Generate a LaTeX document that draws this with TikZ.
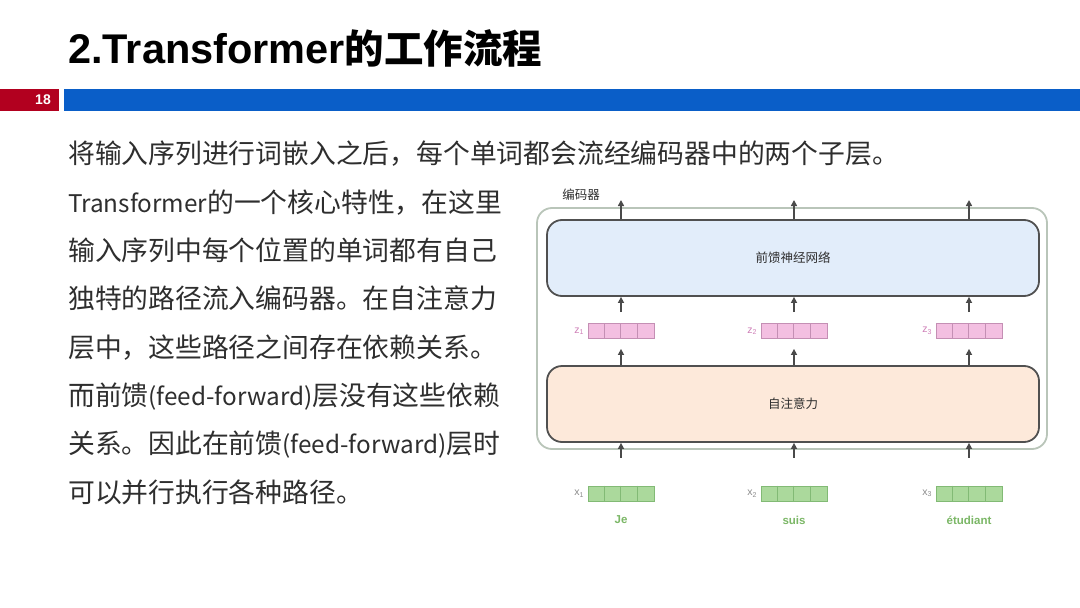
\documentclass[tikz,border=0pt]{standalone}
\usepackage{fontspec}
\setmainfont{Liberation Sans}
\newfontfamily\cjk{Noto Sans CJK SC}
\usetikzlibrary{arrows.meta}

\definecolor{barred}{HTML}{B2001F}
\definecolor{barblue}{HTML}{0A5EC8}
\definecolor{bodytext}{HTML}{2E2E2E}
\definecolor{encframe}{HTML}{B9C5B9}
\definecolor{boxline}{HTML}{505050}
\definecolor{ffnfill}{HTML}{E2EDFA}
\definecolor{attnfill}{HTML}{FDE9DA}
\definecolor{pinkfill}{HTML}{F3BFE1}
\definecolor{pinkline}{HTML}{C48FB4}
\definecolor{greenfill}{HTML}{ABD99C}
\definecolor{greenline}{HTML}{82BA75}
\definecolor{wordgreen}{HTML}{7BB766}
\definecolor{zlabel}{HTML}{CF80B8}
\definecolor{xlabel}{HTML}{8C8C8C}
\definecolor{arrowgray}{HTML}{4A4A4A}

\newcommand{\subidx}[1]{\raisebox{-1.5pt}{\fontsize{7}{7}\selectfont #1}}
% Latin runs inside the Chinese body text are set a little smaller
\newcommand{\lat}[1]{{\fontsize{24.3}{30}\selectfont #1}}

\begin{document}
\begin{tikzpicture}[x=1pt,y=-1pt,
  bodyline/.style={anchor=base west,inner sep=0pt,text=bodytext,
    font=\cjk\fontsize{26.8}{30}\selectfont},
  layerbox/.style={draw=boxline,line width=1.8pt,rounded corners=15pt,
    minimum width=492pt,minimum height=76pt,inner sep=0pt,
    text=bodytext,font=\cjk\fontsize{12.5}{14}\selectfont},
  encbox/.style={draw=encframe,line width=1.8pt,rounded corners=15pt,
    minimum width=510pt,minimum height=241pt,inner sep=0pt},
  vecbox/.style={minimum width=66pt,minimum height=15pt,inner sep=0pt,line width=0.8pt},
  zvec/.style={vecbox,draw=pinkline,fill=pinkfill},
  xvec/.style={vecbox,draw=greenline,fill=greenfill},
  zlab/.style={anchor=east,inner sep=0pt,text=zlabel,font=\fontsize{10.5}{12}\selectfont},
  xlab/.style={anchor=east,inner sep=0pt,text=xlabel,font=\fontsize{10.5}{12}\selectfont},
  word/.style={inner sep=0pt,text=wordgreen,font=\bfseries\fontsize{11.5}{13}\selectfont},
  arr/.style={draw=arrowgray,line width=1.5pt,-{Triangle[length=6pt,width=6pt]}}
]
\useasboundingbox (0,0) rectangle (1080,608);
\fill[white] (0,0) rectangle (1080,608);

% heading
\node[anchor=base west,inner sep=0pt,text=black,font=\bfseries\fontsize{41.5}{46}\selectfont]
  (title) at (68,63) {2.Transformer{\cjk\bfseries\fontsize{39.5}{46}\selectfont 的工作流程}};

% page bar
\fill[barred] (0,89) rectangle (59,111);
\fill[barblue] (64,89) rectangle (1080,111);
\node[anchor=east,inner sep=0pt,text=white,font=\bfseries\fontsize{14}{14}\selectfont]
  (pagenum) at (51,100) {18};

% lead sentence
\node[bodyline] (lead) at (68,163) {将输入序列进行词嵌入之后，每个单词都会流经编码器中的两个子层。};

% left column text
\node[bodyline] (p1) at (68,212) {\lat{Transformer}的一个核心特性，在这里};
\node[bodyline] (p2) at (68,260.3) {输入序列中每个位置的单词都有自己};
\node[bodyline] (p3) at (68,308.6) {独特的路径流入编码器。在自注意力};
\node[bodyline] (p4) at (68,357) {层中，这些路径之间存在依赖关系。};
\node[bodyline] (p5) at (68,405.2) {而前馈\lat{(feed-forward)}层没有这些依赖};
\node[bodyline] (p6) at (68,453.5) {关系。因此在前馈\lat{(feed-forward)}层时};
\node[bodyline] (p7) at (68,502) {可以并行执行各种路径。};

% encoder block
\node[encbox] (enc) at (792,328.5) {};
\node[inner sep=0pt,text=bodytext,font=\cjk\fontsize{12.5}{14}\selectfont]
  (enclabel) at (581,195) {编码器};
\node[layerbox,fill=ffnfill] (ffn) at (793,258) {前馈神经网络};
\node[layerbox,fill=attnfill] (attn) at (793,404) {自注意力};

% vectors z (between layers) and x (inputs)
\node[zvec] (z1) at (621,331) {};
\node[zvec] (z2) at (794,331) {};
\node[zvec] (z3) at (969,331) {};
\node[xvec] (x1) at (621,493.5) {};
\node[xvec] (x2) at (794,493.5) {};
\node[xvec] (x3) at (969,493.5) {};
\foreach \v in {z1,z2,z3}
  \foreach \k in {1,2,3}
    \draw[pinkline,line width=0.8pt] ([xshift=\k*16.5pt]\v.north west) -- ([xshift=\k*16.5pt]\v.south west);
\foreach \v in {x1,x2,x3}
  \foreach \k in {1,2,3}
    \draw[greenline,line width=0.8pt] ([xshift=\k*16.5pt]\v.north west) -- ([xshift=\k*16.5pt]\v.south west);

\node[zlab] (z1l) at ([xshift=-4pt]z1.west) {z\subidx{1}};
\node[zlab] (z2l) at ([xshift=-4pt]z2.west) {z\subidx{2}};
\node[zlab] (z3l) at ([xshift=-4pt]z3.west) {z\subidx{3}};
\node[xlab] (x1l) at ([xshift=-4pt]x1.west) {x\subidx{1}};
\node[xlab] (x2l) at ([xshift=-4pt]x2.west) {x\subidx{2}};
\node[xlab] (x3l) at ([xshift=-4pt]x3.west) {x\subidx{3}};

\node[word] (w1) at (621,520) {Je};
\node[word] (w2) at (794,520) {suis};
\node[word] (w3) at (969,520) {étudiant};

% outputs leaving the encoder
\coordinate (o1) at (621,200);
\coordinate (o2) at (794,200);
\coordinate (o3) at (969,200);
\foreach \i in {1,2,3} {
  \draw[arr] (ffn.north -| o\i) -- (o\i);
  \draw[arr] ([yshift=11pt]z\i.north) -- (ffn.south -| z\i);
  \draw[arr] (attn.north -| z\i) -- ([yshift=-10pt]z\i.south);
  \draw[arr] ([yshift=28pt]x\i.north) -- (attn.south -| x\i);
}
\end{tikzpicture}
\end{document}
